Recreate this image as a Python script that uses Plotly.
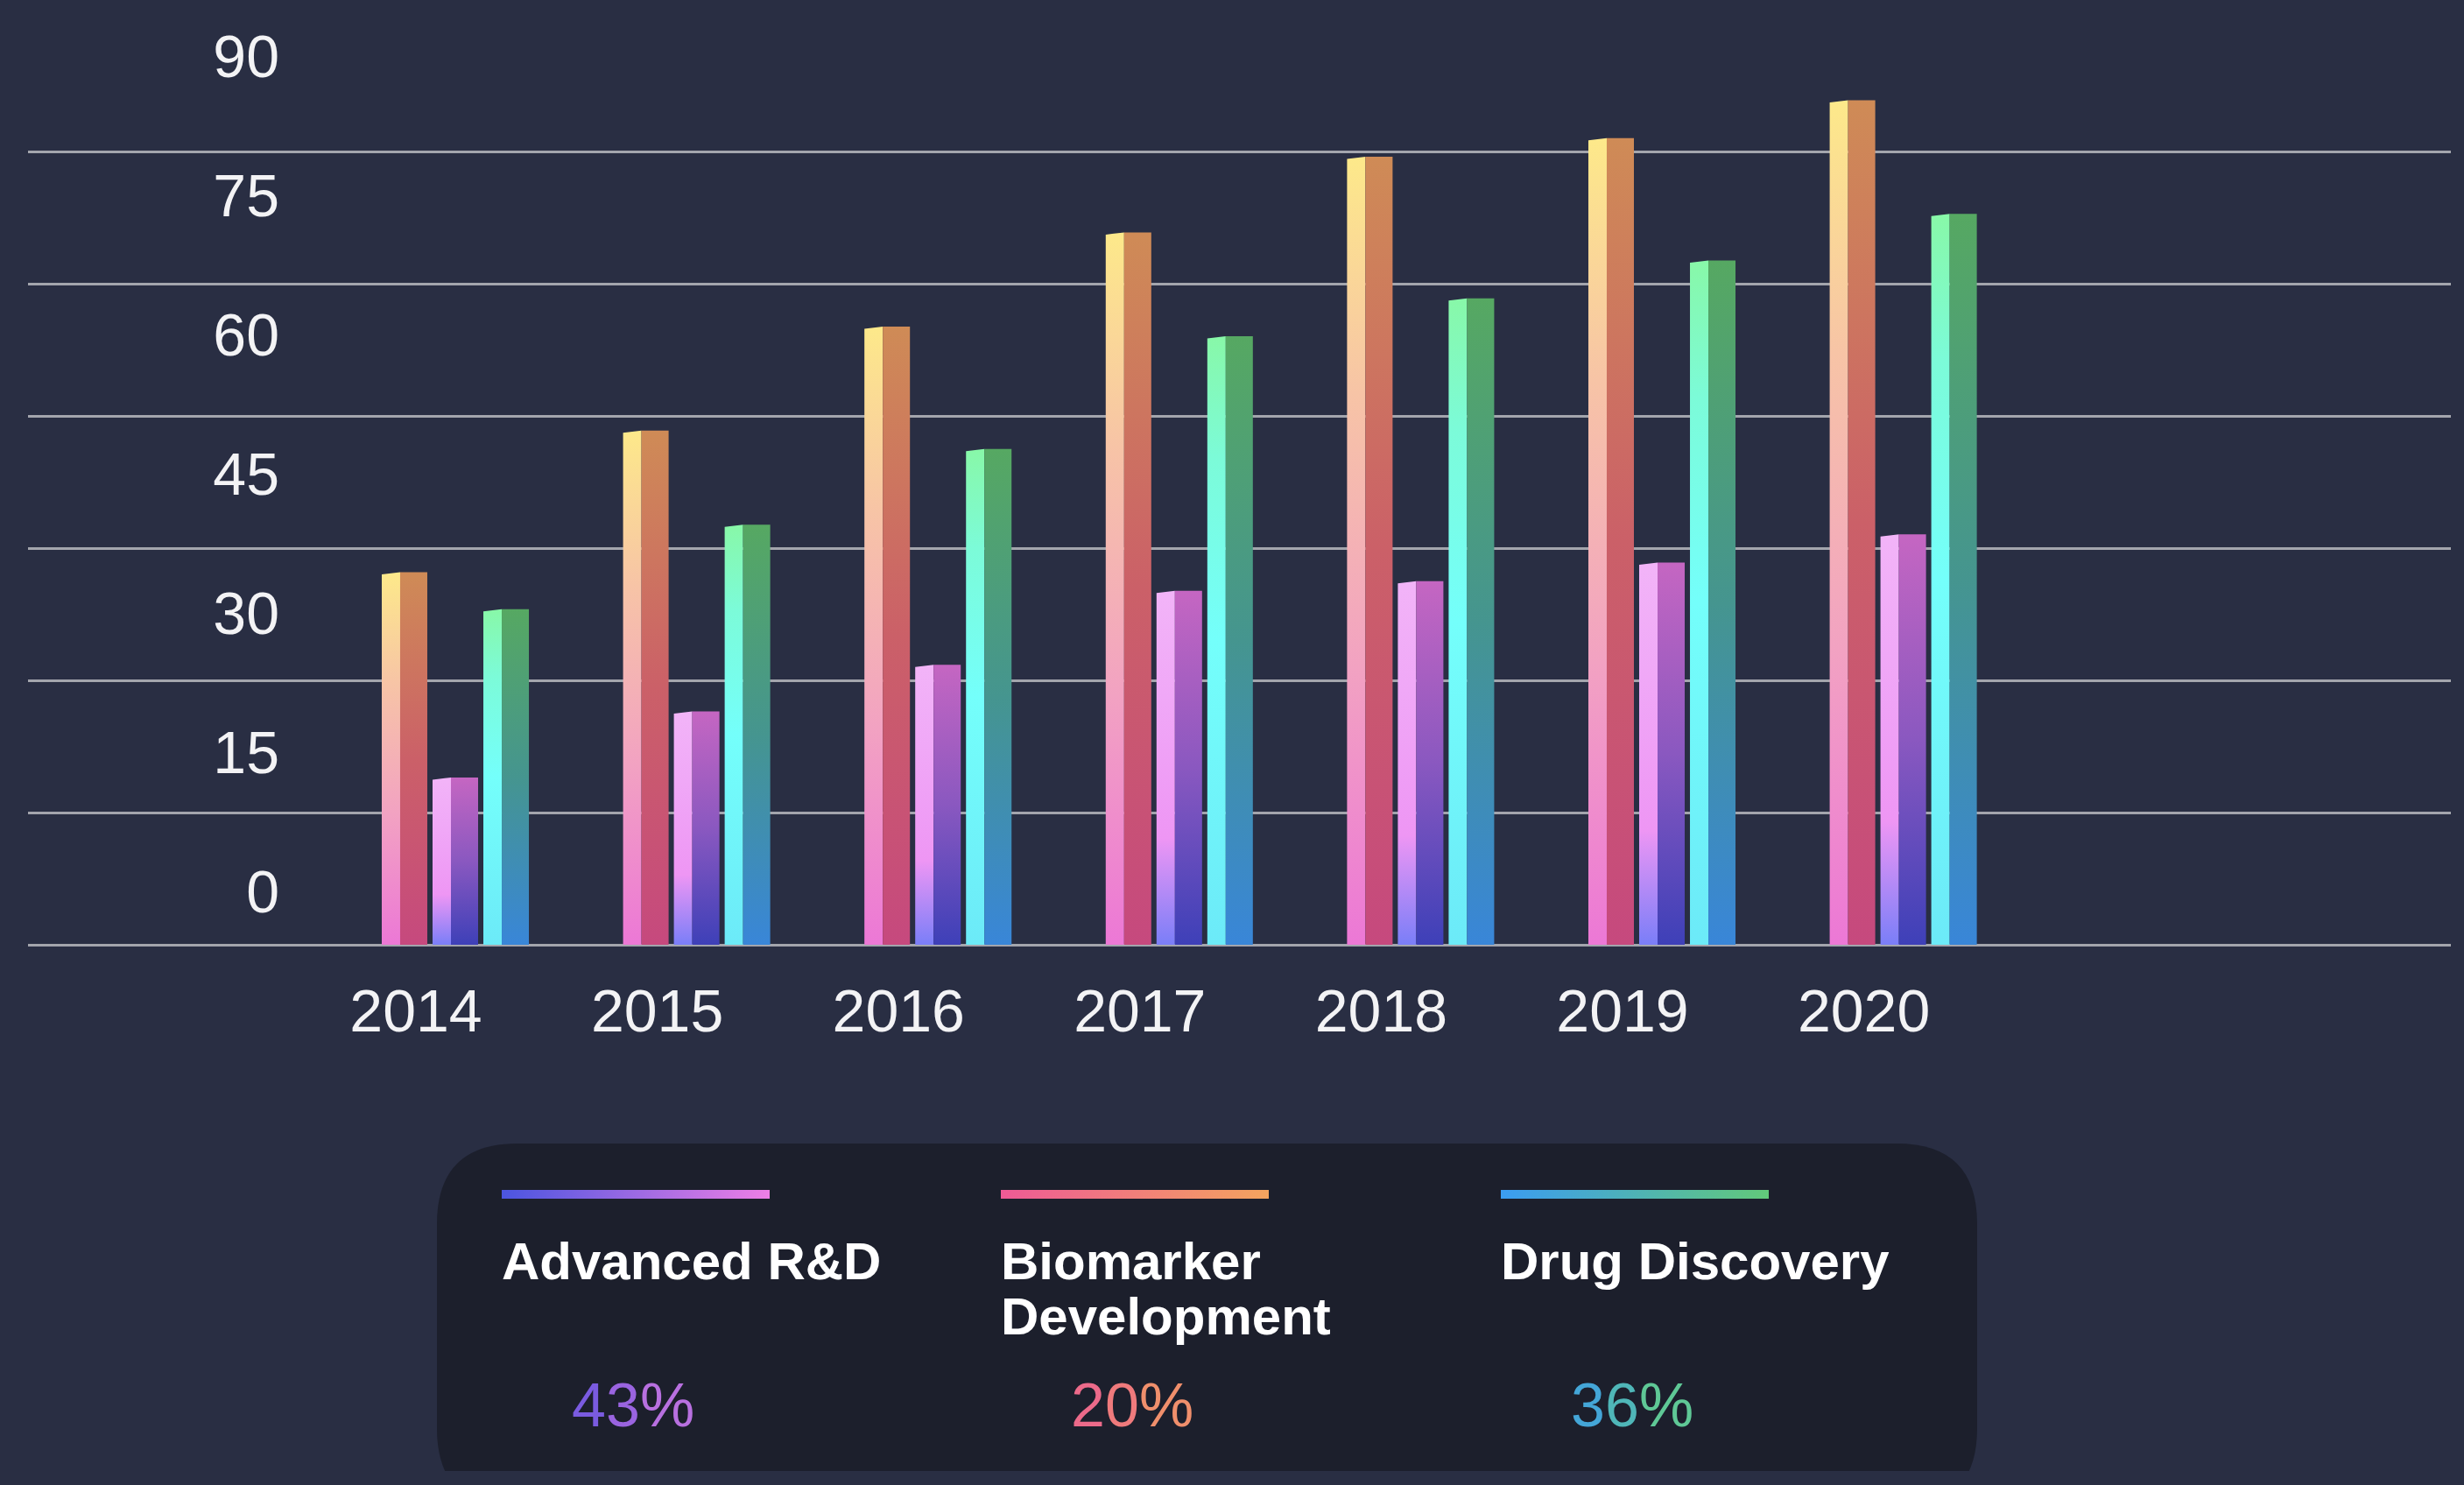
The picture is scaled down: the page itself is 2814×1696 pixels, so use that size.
import plotly.graph_objects as go

# ---------------- data ----------------
years = ["2014", "2015", "2016", "2017", "2018", "2019", "2020"]
biomarker = [42.3, 58.4, 70.2, 80.9, 89.5, 91.6, 95.9]
advanced = [19.0, 26.5, 31.8, 40.2, 41.3, 43.4, 46.6]
drug = [38.1, 47.7, 56.3, 69.1, 73.4, 77.7, 83.0]
y_ticks = [0, 15, 30, 45, 60, 75, 90]

legend_names = ["Advanced R&D", "Biomarker Development", "Drug Discovery"]
legend_shares = [43, 20, 36]

# ---------------- styles ----------------
W, H = 2814, 1696
BG = "#292e43"
GRID = "#a3a5ad"
TXT = "#f3f3f5"

BIO_L = [[0, "#ec78d6"], [0.35, "#f2a2c2"], [0.7, "#f7c4a6"], [1, "#fde98a"]]
BIO_R = [[0, "#c6497e"], [0.5, "#cb6068"], [1, "#cf8b56"]]
ADV_L = [[0, "#7a7ef8"], [0.3, "#ee96f4"], [0.7, "#f0a8f7"], [1, "#f2b4f8"]]
ADV_R = [[0, "#3e40b8"], [0.5, "#8a58c0"], [1, "#c566c2"]]
DRG_L = [[0, "#6ceaf8"], [0.5, "#74fffb"], [0.8, "#7cfbd8"], [1, "#88f8a8"]]
DRG_R = [[0, "#3986d8"], [0.5, "#45958f"], [1, "#56a862"]]

series = [
    (biomarker, BIO_L, BIO_R, -1),
    (advanced, ADV_L, ADV_R, 0),
    (drug, DRG_L, DRG_R, 1),
]

STRIDE = 0.2105
LEFT_W = 0.0762
RIGHT_W = 0.1125
SLANT = 0.25

legend_bar_scales = [
    [[0, "#4b55e0"], [1, "#ee7fe6"]],
    [[0, "#ee5a96"], [1, "#f4a45e"]],
    [[0, "#3b9cf2"], [1, "#62c97a"]],
]
legend_pct_colors = [
    ["#7a5be0", "#9a64e0", "#b870e0"],
    ["#ec6a8a", "#ef7a7c", "#f08f6c"],
    ["#44a6d8", "#4fb6b8", "#5fc896"],
]

fig = go.Figure()

# ---------------- bars (two shaded faces each) ----------------
for values, lscale, rscale, k in series:
    for i, v in enumerate(values):
        c = i + k * STRIDE
        x0 = c - (LEFT_W + RIGHT_W) / 2
        xs = x0 + LEFT_W
        x1 = xs + RIGHT_W
        fig.add_trace(go.Scatter(
            x=[x0, x0, xs, xs, x0], y=[0, v - SLANT, v, 0, 0],
            mode="lines", line=dict(width=0), fill="toself",
            fillgradient=dict(type="vertical", colorscale=lscale, start=0, stop=v),
            hoverinfo="skip", showlegend=False))
        fig.add_trace(go.Scatter(
            x=[xs, xs, x1, x1, xs], y=[0, v, v, 0, 0],
            mode="lines", line=dict(width=0), fill="toself",
            fillgradient=dict(type="vertical", colorscale=rscale, start=0, stop=v),
            hoverinfo="skip", showlegend=False))

# invisible trace so the tick-label axis (y2) is drawn
fig.add_trace(go.Scatter(x=[None], y=[None], yaxis="y2", mode="markers",
                         hoverinfo="skip", showlegend=False))

# ---------------- custom legend panel (pixel axes x2/y3) ----------------
col_x = [573, 1143, 1714]
for j, name in enumerate(legend_names):
    lx = col_x[j]
    fig.add_trace(go.Scatter(
        x=[lx, lx + 306, lx + 306, lx, lx], y=[1359, 1359, 1369, 1369, 1359],
        xaxis="x2", yaxis="y3", mode="lines", line=dict(width=0), fill="toself",
        fillgradient=dict(type="horizontal", colorscale=legend_bar_scales[j]),
        hoverinfo="skip", showlegend=False))

annotations = []
for j, name in enumerate(legend_names):
    lx = col_x[j]
    lines = name.split(" ") if name == "Biomarker Development" else [name]
    for li, line in enumerate(lines):
        annotations.append(dict(
            x=lx - 2, y=1440 + li * 63, xref="x2", yref="y3", text=line,
            showarrow=False, xanchor="left", yanchor="middle",
            font=dict(family="Liberation Sans, Arial, sans-serif", size=60,
                      color="#ffffff", weight="bold")))
    pct = f"{legend_shares[j]}%"
    cols = legend_pct_colors[j]
    txt = "".join(f"<span style='color:{cols[min(n, len(cols)-1)]}'>{ch}</span>"
                  for n, ch in enumerate(pct))
    annotations.append(dict(
        x=lx + 150, y=1605, xref="x2", yref="y3", text=txt,
        showarrow=False, xanchor="center", yanchor="middle",
        font=dict(family="Liberation Sans, Arial, sans-serif", size=70)))

def rrect(x0, y0, x1, y1, r):
    return (f"M {x0+r},{y0} L {x1-r},{y0} Q {x1},{y0} {x1},{y0+r} "
            f"L {x1},{y1-r} Q {x1},{y1} {x1-r},{y1} L {x0+r},{y1} "
            f"Q {x0},{y1} {x0},{y1-r} L {x0},{y0+r} Q {x0},{y0} {x0+r},{y0} Z")

shapes = [
    dict(type="path", xref="x2", yref="y3", path=rrect(499, 1306, 2258, 1723, 92),
         fillcolor="#1c1f2c", line=dict(width=0), layer="below"),
    dict(type="rect", xref="x2", yref="y3", x0=0, x1=W, y0=1680, y1=H,
         fillcolor=BG, line=dict(width=0), layer="below"),
]

# ---------------- layout ----------------
ydom = [1 - 1090 / H, 1 - 20 / H]
fig.update_layout(
    width=W, height=H, autosize=False,
    paper_bgcolor=BG, plot_bgcolor="rgba(0,0,0,0)",
    margin=dict(l=0, r=0, t=0, b=0, pad=0),
    showlegend=False,
    xaxis=dict(domain=[32 / W, 2799 / W], range=[-1.7707, 8.2692],
               tickmode="array", tickvals=list(range(len(years))), ticktext=years,
               ticks="", showgrid=False, zeroline=False, showline=False,
               ticklabelshift=-45, ticklabelstandoff=19,
               tickfont=dict(family="Liberation Sans, Arial, sans-serif", size=68, color=TXT)),
    yaxis=dict(domain=ydom, range=[-1.094, 105.3], tickmode="array", tickvals=y_ticks,
               showticklabels=False, ticks="", showgrid=True, gridcolor=GRID, gridwidth=3,
               zeroline=False, showline=False),
    yaxis2=dict(overlaying="y", anchor="free", position=319 / W, side="left",
                range=[-6.79, 94.15], tickmode="array", tickvals=y_ticks,
                ticks="", showgrid=False, zeroline=False, showline=False,
                showticklabels=True, ticklabelstandoff=0,
                tickfont=dict(family="Liberation Sans, Arial, sans-serif", size=68, color=TXT)),
    xaxis2=dict(domain=[0, 1], range=[0, W], visible=False, anchor="y3", fixedrange=True),
    yaxis3=dict(domain=[0, 1], range=[H, 0], visible=False, anchor="x2", fixedrange=True),
    shapes=shapes,
    annotations=annotations,
)

fig.write_html(
    "out.html",
    config={"displayModeBar": False},
    post_script="document.body.style.margin='0';document.body.style.overflow='hidden';",
)
